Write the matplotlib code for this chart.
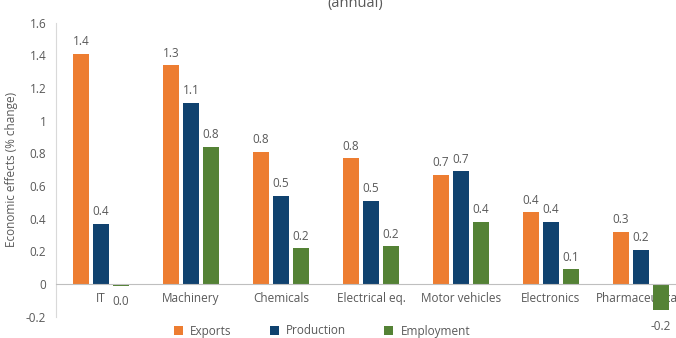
import numpy as np
import matplotlib.pyplot as plt

plt.rcParams["font.family"] = ["Open Sans", "DejaVu Sans"]

categories = ["IT", "Machinery", "Chemicals", "Electrical eq.", "Motor vehicles",
              "Electronics", "Pharmaceuticals"]
exports = [1.41, 1.34, 0.81, 0.77, 0.67, 0.44, 0.32]
production = [0.37, 1.11, 0.54, 0.51, 0.69, 0.38, 0.21]
employment = [-0.01, 0.84, 0.22, 0.23, 0.38, 0.09, -0.16]

series = [
    ("Exports", exports, "#ED7D31"),
    ("Production", production, "#10426F"),
    ("Employment", employment, "#548235"),
]

W, H = 676, 338
fig = plt.figure(figsize=(W / 100, H / 100), dpi=100)
ax = fig.add_axes([56 / W, (H - 316.7) / H, 630 / W, (316.7 - 22.7) / H])

x = np.arange(len(categories))
width = 0.17
offsets = [-0.222, 0.0, 0.222]
text_col = "#595959"

for (name, vals, col), off in zip(series, offsets):
    bars = ax.bar(x + off, vals, width, color=col, label=name, zorder=2)
    for b, v in zip(bars, vals):
        if v >= 0:
            ax.annotate(f"{v:.1f}", (b.get_x() + b.get_width() / 2, v), xytext=(0, 4),
                        textcoords="offset points", ha="center", va="bottom",
                        fontsize=8.5, color=text_col)
        else:
            ax.annotate(f"{abs(v):.1f}" if round(v, 1) == 0 else f"{v:.1f}",
                        (b.get_x() + b.get_width() / 2, v), xytext=(0, -7),
                        textcoords="offset points", ha="center", va="top",
                        fontsize=8.5, color=text_col)

ax.set_xlim(-0.5, len(categories) - 0.5)
ax.set_ylim(-0.2, 1.6)
ax.set_yticks([-0.2, 0, 0.2, 0.4, 0.6, 0.8, 1, 1.2, 1.4, 1.6])
ax.set_yticklabels(["-0.2", "0", "0.2", "0.4", "0.6", "0.8", "1", "1.2", "1.4", "1.6"])
ax.set_xticks(x)
ax.set_xticklabels(categories)
ax.tick_params(axis="both", length=0, labelsize=8.5, colors=text_col)
ax.tick_params(axis="x", pad=6)
ax.tick_params(axis="y", pad=7)

ax.spines["top"].set_visible(False)
ax.spines["right"].set_visible(False)
ax.spines["left"].set_color("#D9D9D9")
ax.spines["bottom"].set_position(("data", 0))
ax.spines["bottom"].set_color("#BFBFBF")
ax.set_ylabel("Economic effects (% change)", fontsize=8.5, color=text_col, labelpad=6)

# title is clipped at the top edge in the source image
fig.text(355 / W, 1 - 3 / H, "(annual)", ha="center", va="center", fontsize=10.5, color=text_col)

fig.legend(loc="center", bbox_to_anchor=(322 / W, 1 - 331 / H), ncol=3, frameon=False,
           fontsize=8.5, handlelength=0.8, handleheight=0.8, columnspacing=3.2,
           handletextpad=0.6, labelcolor=text_col)

fig.savefig("out.png", dpi=100)
